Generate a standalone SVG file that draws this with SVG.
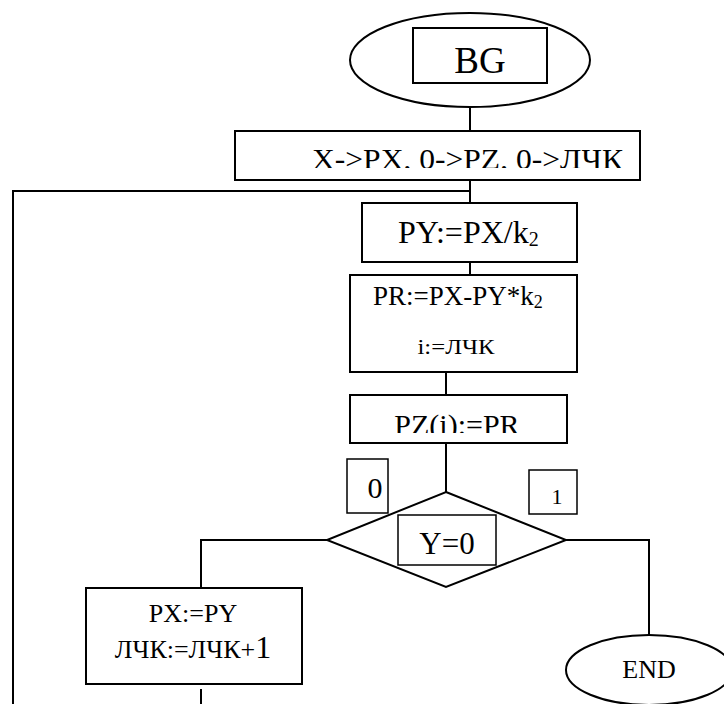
<svg xmlns="http://www.w3.org/2000/svg" width="724" height="704" viewBox="0 0 724 704">
  <style>
    .box { fill: #ffffff; stroke: #000000; stroke-width: 2; }
    .lbl { fill: #ffffff; stroke: #000000; stroke-width: 1.5; }
    .wire { fill: none; stroke: #000000; stroke-width: 2; }
    .t { font-family: "Liberation Serif", "Times New Roman", serif; fill: #000000; }
  </style>
  <defs>
    <!-- text windows narrower than their frames, so the lower edge of the glyphs is cut -->
    <clipPath id="clipInit"><rect x="236" y="132" width="403" height="36"/></clipPath>
    <clipPath id="clipStore"><rect x="351" y="396" width="215" height="37"/></clipPath>
  </defs>

  <!-- flow lines -->
  <g id="connectors">
    <line class="wire" x1="470" y1="107" x2="470" y2="131"/>
    <line class="wire" x1="470" y1="180" x2="470" y2="203"/>
    <polyline class="wire" points="470,191 13,191 13,704"/>
    <line class="wire" x1="470" y1="262" x2="470" y2="275"/>
    <line class="wire" x1="446" y1="372" x2="446" y2="395"/>
    <line class="wire" x1="446" y1="443" x2="446" y2="492"/>
    <polyline class="wire" points="327,540 201,540 201,588"/>
    <polyline class="wire" points="566,540 649,540 649,635"/>
    <line class="wire" x1="201" y1="689" x2="201" y2="704"/>
  </g>

  <!-- start terminal -->
  <g id="begin">
    <ellipse class="box" cx="470" cy="60" rx="120" ry="47"/>
    <rect class="box" x="413" y="28" width="134" height="55"/>
    <text class="t" x="480" y="73" font-size="37" text-anchor="middle">BG</text>
  </g>

  <!-- initialisation -->
  <g id="init">
    <rect class="box" x="235" y="131" width="405" height="49"/>
    <text class="t" x="312" y="169" font-size="29" textLength="311" lengthAdjust="spacingAndGlyphs" clip-path="url(#clipInit)">X-&gt;PX, 0-&gt;PZ, 0-&gt;ЛЧК</text>
  </g>

  <!-- quotient -->
  <g id="quotient">
    <rect class="box" x="362" y="203" width="215" height="59"/>
    <text class="t" x="398" y="243" font-size="32">PY:=PX/k<tspan font-size="20" dy="3">2</tspan></text>
  </g>

  <!-- remainder and digit index -->
  <g id="remainder">
    <rect class="box" x="350" y="275" width="227" height="97"/>
    <text class="t" x="373" y="305" font-size="27">PR:=PX-PY*k<tspan font-size="18" dy="3">2</tspan></text>
    <text class="t" x="456" y="354" font-size="22" text-anchor="middle" textLength="77" lengthAdjust="spacingAndGlyphs">i:=ЛЧК</text>
  </g>

  <!-- store digit -->
  <g id="store">
    <rect class="box" x="350" y="395" width="217" height="48"/>
    <text class="t" x="457" y="435" font-size="30" text-anchor="middle" clip-path="url(#clipStore)">PZ(i):=PR</text>
  </g>

  <!-- loop test -->
  <g id="decision">
    <polygon class="box" points="446,492 566,540 446,587 327,540"/>
    <rect class="lbl" x="398" y="515" width="98" height="50"/>
    <text class="t" x="447" y="554" font-size="31" text-anchor="middle">Y=0</text>
  </g>

  <!-- branch labels -->
  <g id="label-no">
    <rect class="lbl" x="347" y="459" width="41" height="54"/>
    <text class="t" x="375" y="498" font-size="30" text-anchor="middle">0</text>
  </g>
  <g id="label-yes">
    <rect class="lbl" x="529" y="470" width="48" height="44"/>
    <text class="t" x="557" y="504" font-size="22" text-anchor="middle">1</text>
  </g>

  <!-- next iteration -->
  <g id="advance">
    <rect class="box" x="86" y="588" width="216" height="96"/>
    <text class="t" x="193" y="622" font-size="26" text-anchor="middle">PX:=PY</text>
    <text class="t" x="193" y="658" font-size="26" text-anchor="middle">ЛЧК:=ЛЧК+<tspan font-size="32">1</tspan></text>
  </g>

  <!-- end terminal -->
  <g id="end">
    <ellipse class="box" cx="649" cy="670" rx="83" ry="35"/>
    <text class="t" x="649" y="678" font-size="26" text-anchor="middle">END</text>
  </g>
</svg>
